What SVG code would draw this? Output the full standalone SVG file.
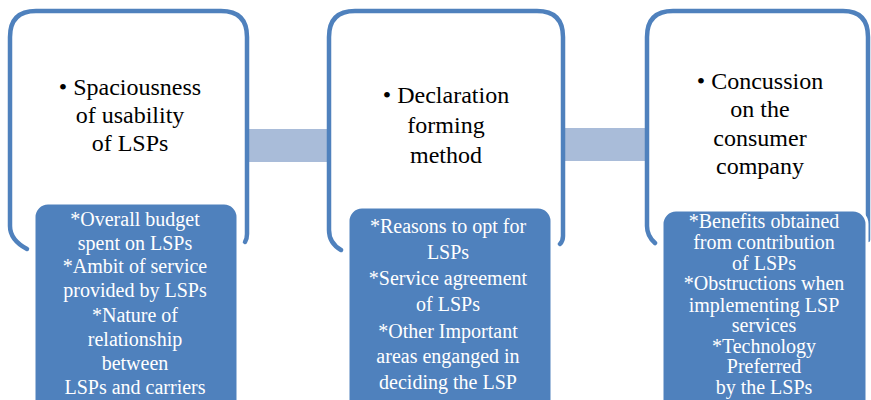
<svg xmlns="http://www.w3.org/2000/svg" width="871" height="400" viewBox="0 0 871 400">
<style>
.frame{fill:none;stroke:#4f81bd;stroke-width:4.5;stroke-linecap:round}
.panel{fill:#4f81bd;stroke:#ffffff;stroke-width:3}
.bar{fill:#a9bcd9}
.title{font-family:"Liberation Serif","Times New Roman",serif;font-size:24px;fill:#000;text-anchor:middle}
.body{font-family:"Liberation Serif","Times New Roman",serif;font-size:20px;fill:#fff;text-anchor:middle}
</style>
<rect width="871" height="400" fill="#fff"/>
<g id="connectors">
<rect class="bar" x="249" y="129" width="80" height="33"/>
<rect class="bar" x="564" y="128" width="83" height="33"/>
</g>
<g id="node1">
<path class="frame" d="M27 249 Q10 240 10 226 L10 37 Q10 11 36 11 L221 11 Q247 11 247 37 L247 234 Q247 239 245 242"/>
<rect class="panel" x="34" y="203" width="204" height="215" rx="14"/>
<text class="title" x="130" y="95">• Spaciousness</text>
<text class="title" x="130" y="123">of usability</text>
<text class="title" x="130" y="151">of LSPs</text>
<text class="body" x="135" y="226">*Overall budget</text>
<text class="body" x="135" y="250">spent on LSPs</text>
<text class="body" x="135" y="273">*Ambit of service</text>
<text class="body" x="135" y="297">provided by LSPs</text>
<text class="body" x="135" y="322">*Nature of</text>
<text class="body" x="135" y="346">relationship</text>
<text class="body" x="135" y="370">between</text>
<text class="body" x="135" y="394">LSPs and carriers</text>
</g>
<g id="node2">
<path class="frame" d="M341 250 Q329 243 329 230 L329 37 Q329 11 355 11 L537 11 Q563 11 563 37 L563 236 Q563 241 560 244"/>
<rect class="panel" x="348" y="207" width="204" height="215" rx="14"/>
<text class="title" x="446" y="103">• Declaration</text>
<text class="title" x="446" y="133">forming</text>
<text class="title" x="446" y="163">method</text>
<text class="body" x="448" y="233">*Reasons to opt for</text>
<text class="body" x="448" y="259">LSPs</text>
<text class="body" x="448" y="285">*Service agreement</text>
<text class="body" x="448" y="311">of LSPs</text>
<text class="body" x="448" y="338">*Other Important</text>
<text class="body" x="448" y="363">areas enganged in</text>
<text class="body" x="448" y="389">deciding the LSP</text>
</g>
<g id="node3">
<path class="frame" d="M655 243 Q647 236 647 226 L647 37 Q647 11 673 11 L843 11 Q868 11 868 37 L868 240"/>
<rect class="panel" x="662" y="210" width="205" height="215" rx="14"/>
<text class="title" x="760" y="89">• Concussion</text>
<text class="title" x="760" y="117">on the</text>
<text class="title" x="760" y="146">consumer</text>
<text class="title" x="760" y="174">company</text>
<text class="body" x="764" y="228">*Benefits obtained</text>
<text class="body" x="764" y="249">from contribution</text>
<text class="body" x="764" y="270">of LSPs</text>
<text class="body" x="764" y="290">*Obstructions when</text>
<text class="body" x="764" y="312">implementing LSP</text>
<text class="body" x="764" y="332">services</text>
<text class="body" x="764" y="353">*Technology</text>
<text class="body" x="764" y="373">Preferred</text>
<text class="body" x="764" y="394">by the LSPs</text>
</g>
</svg>
